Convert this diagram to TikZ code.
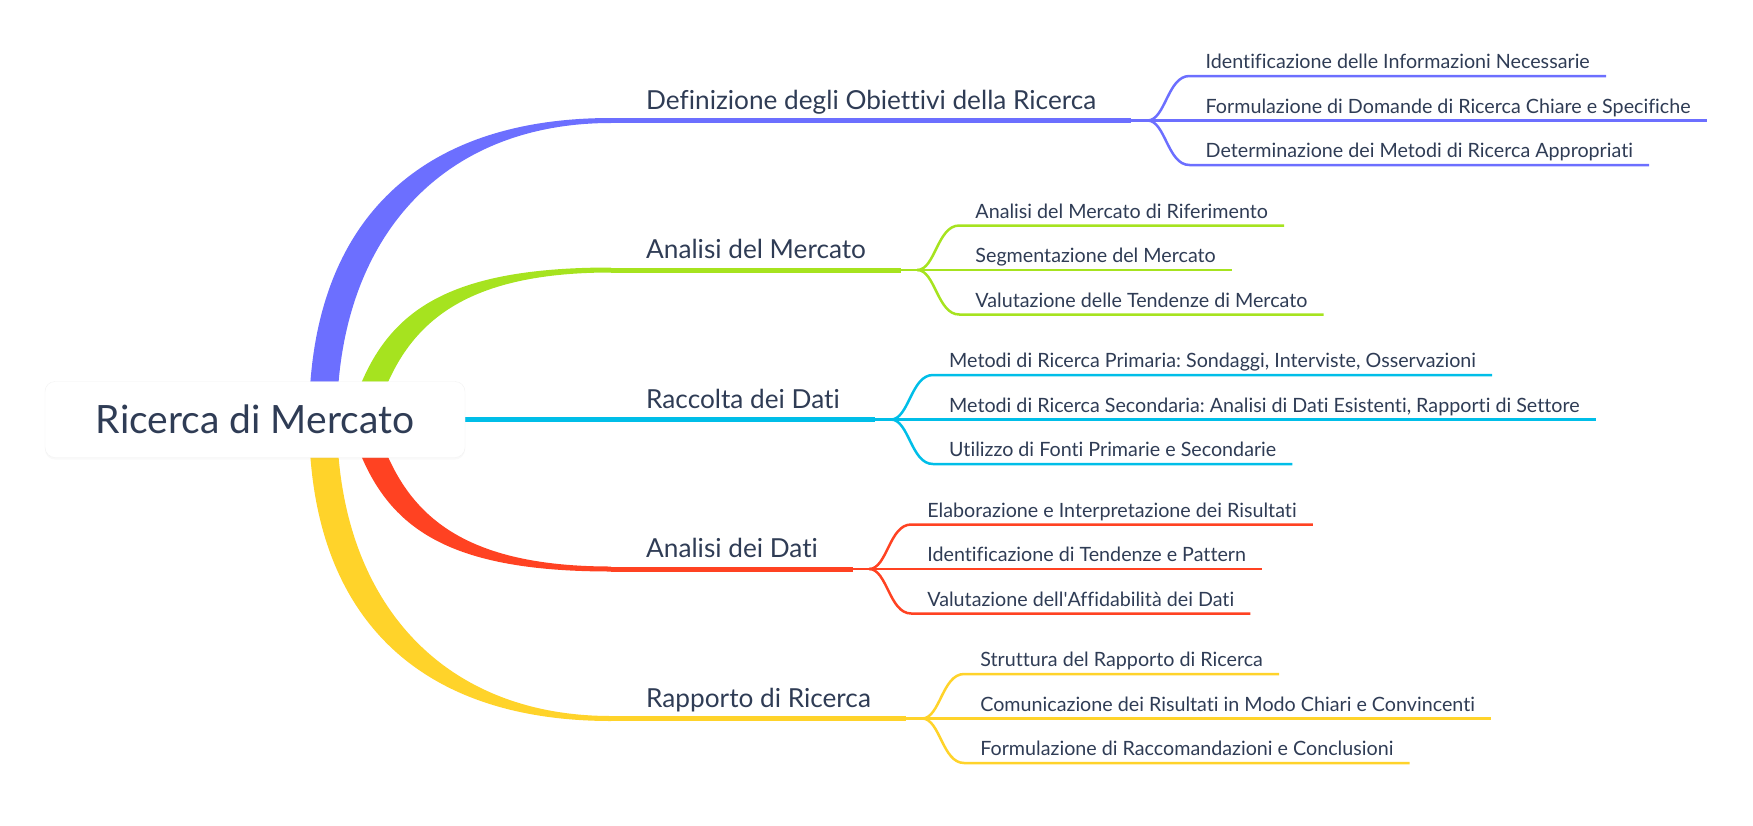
\documentclass[tikz,border=0pt]{standalone}
\usepackage{fontspec}
\setmainfont{Lato}[Ligatures={NoCommon}]
\usepackage{tikz}
\usetikzlibrary{calc,positioning,shadows}
\frenchspacing

\definecolor{mmText}{RGB}{47,60,85}
\definecolor{mmBlue}{RGB}{108,111,255}
\definecolor{mmGreen}{RGB}{166,227,31}
\definecolor{mmCyan}{RGB}{0,190,232}
\definecolor{mmRed}{RGB}{255,66,34}
\definecolor{mmYellow}{RGB}{255,211,42}

\begin{document}
\begin{tikzpicture}[
    x=1pt, y=-1pt,
    root/.style={fill=white, draw=black!5, rounded corners=10pt, minimum width=420pt, minimum height=76pt, text=mmText, font=\fontsize{39}{44}\selectfont, drop shadow={shadow xshift=0pt, shadow yshift=-2pt, opacity=0.05}},
    topic/.style={anchor=south west, inner xsep=35pt, inner ysep=11pt, text depth=0pt, text=mmText, font=\fontsize{26.2}{30}\selectfont},
    leaf/.style={anchor=south west, inner xsep=16pt, inner ysep=7pt, text depth=0pt, text=mmText, font=\fontsize{19.7}{23}\selectfont},
    bar/.style={line width=5pt},
    twig/.style={line width=2.5pt, line join=round}
]
\useasboundingbox (0,0) rectangle (1753,825);
\coordinate (rc) at (255,419.5);

% main topics
\node[topic] (b) at (611,120.5) {Definizione degli Obiettivi della Ricerca};
\node[topic] (g) at (611,270) {Analisi del Mercato};
\node[topic] (c) at (611,419.5) {Raccolta dei Dati};
\node[topic] (r) at (611,569) {Analisi dei Dati};
\node[topic] (y) at (611,718.5) {Rapporto di Ricerca};

\coordinate (bs) at ($(b.south east)+(16,0)$);
\coordinate (gs) at ($(g.south east)+(16,0)$);
\coordinate (cs) at ($(c.south east)+(16,0)$);
\coordinate (rs) at ($(r.south east)+(16,0)$);
\coordinate (ys) at ($(y.south east)+(16,0)$);

% sub topics
\node[leaf] (b1) at ($(bs)+(42,-44.5)$) {Identificazione delle Informazioni Necessarie};
\node[leaf] (b2) at ($(bs)+(42,0)$) {Formulazione di Domande di Ricerca Chiare e Specifiche};
\node[leaf] (b3) at ($(bs)+(42,44.5)$) {Determinazione dei Metodi di Ricerca Appropriati};

\node[leaf] (g1) at ($(gs)+(42,-44.5)$) {Analisi del Mercato di Riferimento};
\node[leaf] (g2) at ($(gs)+(42,0)$) {Segmentazione del Mercato};
\node[leaf] (g3) at ($(gs)+(42,44.5)$) {Valutazione delle Tendenze di Mercato};

\node[leaf] (c1) at ($(cs)+(42,-44.5)$) {Metodi di Ricerca Primaria: Sondaggi, Interviste, Osservazioni};
\node[leaf] (c2) at ($(cs)+(42,0)$) {Metodi di Ricerca Secondaria: Analisi di Dati Esistenti, Rapporti di Settore};
\node[leaf] (c3) at ($(cs)+(42,44.5)$) {Utilizzo di Fonti Primarie e Secondarie};

\node[leaf] (r1) at ($(rs)+(42,-44.5)$) {Elaborazione e Interpretazione dei Risultati};
\node[leaf] (r2) at ($(rs)+(42,0)$) {Identificazione di Tendenze e Pattern};
\node[leaf] (r3) at ($(rs)+(42,44.5)$) {Valutazione dell\textquotesingle Affidabilità dei Dati};

\node[leaf] (y1) at ($(ys)+(42,-44.5)$) {Struttura del Rapporto di Ricerca};
\node[leaf] (y2) at ($(ys)+(42,0)$) {Comunicazione dei Risultati in Modo Chiari e Convincenti};
\node[leaf] (y3) at ($(ys)+(42,44.5)$) {Formulazione di Raccomandazioni e Conclusioni};

% tapered branches from the root
\fill[mmBlue] ($(rc)+(54,0)$) .. controls +(0,-199) and +(-191,0) .. ($(b.south west)+(0,-2.5)$)
    -- ($(b.south west)+(0,2.5)$) .. controls +(-171,0) and +(0,-179) .. ($(rc)+(82,0)$) -- cycle;
\fill[mmGreen] ($(rc)+(98,-14.5)$) .. controls +(30,-90) and +(-171,0) .. ($(g.south west)+(0,-2.5)$)
    -- ($(g.south west)+(0,2.5)$) .. controls +(-156,0) and +(26,-75) .. ($(rc)+(124,-14.5)$) -- cycle;
\fill[mmRed] ($(rc)+(98,14.5)$) .. controls +(30,90) and +(-171,0) .. ($(r.south west)+(0,2.5)$)
    -- ($(r.south west)+(0,-2.5)$) .. controls +(-156,0) and +(26,75) .. ($(rc)+(124,14.5)$) -- cycle;
\fill[mmYellow] ($(rc)+(54,0)$) .. controls +(0,199) and +(-191,0) .. ($(y.south west)+(0,2.5)$)
    -- ($(y.south west)+(0,-2.5)$) .. controls +(-171,0) and +(0,179) .. ($(rc)+(82,0)$) -- cycle;
\draw[bar, mmCyan] (rc) -- (c.south west);

% underlines of the main topics
\draw[bar, mmBlue] (b.south west) -- (b.south east);
\draw[bar, mmGreen] (g.south west) -- (g.south east);
\draw[bar, mmCyan] (c.south west) -- (c.south east);
\draw[bar, mmRed] (r.south west) -- (r.south east);
\draw[bar, mmYellow] (y.south west) -- (y.south east);

% sub branches
\draw[twig, mmBlue] (b.south east) -- (bs);
\draw[twig, mmBlue] (bs) .. controls +(18,0) and +(-22,0) .. (b1.south west) -- (b1.south east);
\draw[twig, mmBlue] (bs) -- (b2.south west) -- (b2.south east);
\draw[twig, mmBlue] (bs) .. controls +(18,0) and +(-22,0) .. (b3.south west) -- (b3.south east);

\draw[twig, mmGreen] (g.south east) -- (gs);
\draw[twig, mmGreen] (gs) .. controls +(18,0) and +(-22,0) .. (g1.south west) -- (g1.south east);
\draw[twig, mmGreen] (gs) -- (g2.south west) -- (g2.south east);
\draw[twig, mmGreen] (gs) .. controls +(18,0) and +(-22,0) .. (g3.south west) -- (g3.south east);

\draw[twig, mmCyan] (c.south east) -- (cs);
\draw[twig, mmCyan] (cs) .. controls +(18,0) and +(-22,0) .. (c1.south west) -- (c1.south east);
\draw[twig, mmCyan] (cs) -- (c2.south west) -- (c2.south east);
\draw[twig, mmCyan] (cs) .. controls +(18,0) and +(-22,0) .. (c3.south west) -- (c3.south east);

\draw[twig, mmRed] (r.south east) -- (rs);
\draw[twig, mmRed] (rs) .. controls +(18,0) and +(-22,0) .. (r1.south west) -- (r1.south east);
\draw[twig, mmRed] (rs) -- (r2.south west) -- (r2.south east);
\draw[twig, mmRed] (rs) .. controls +(18,0) and +(-22,0) .. (r3.south west) -- (r3.south east);

\draw[twig, mmYellow] (y.south east) -- (ys);
\draw[twig, mmYellow] (ys) .. controls +(18,0) and +(-22,0) .. (y1.south west) -- (y1.south east);
\draw[twig, mmYellow] (ys) -- (y2.south west) -- (y2.south east);
\draw[twig, mmYellow] (ys) .. controls +(18,0) and +(-22,0) .. (y3.south west) -- (y3.south east);

% root
\node[root] (root) at (rc) {Ricerca di Mercato};
\end{tikzpicture}
\end{document}
